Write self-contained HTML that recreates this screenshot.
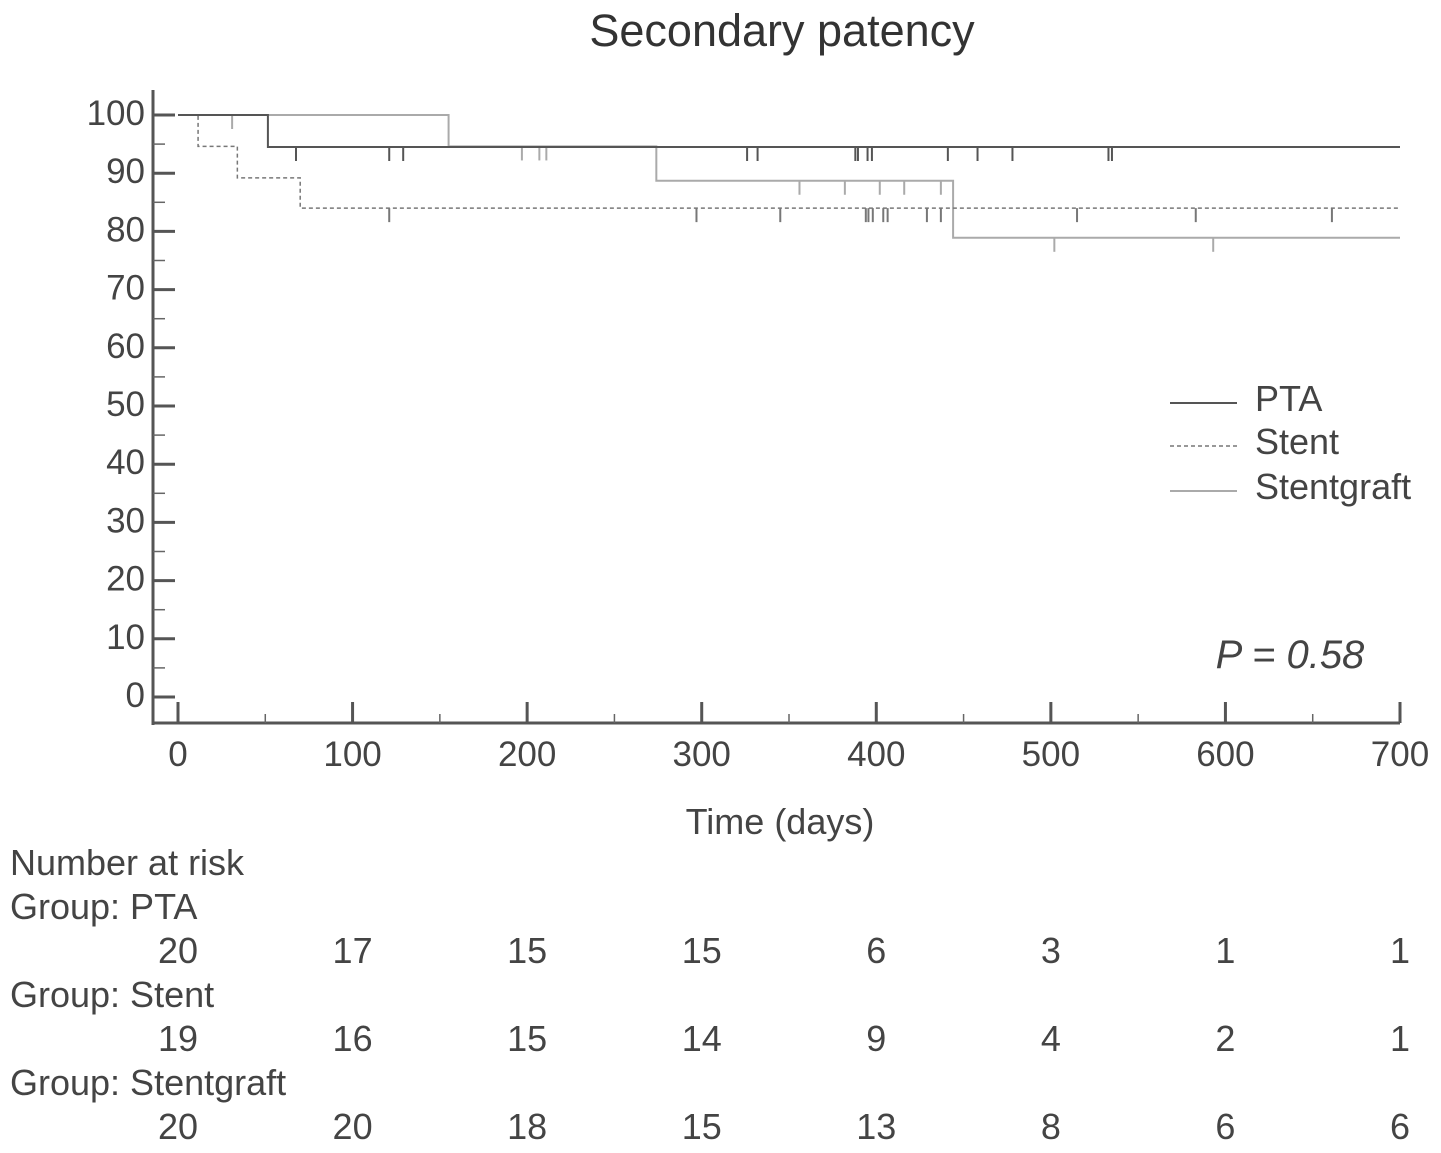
<!DOCTYPE html>
<html><head><meta charset="utf-8">
<style>
html,body{margin:0;padding:0;background:#fff;}
svg{display:block;font-family:"Liberation Sans",Arial,sans-serif;}
</style></head>
<body>
<svg id="chart" width="1441" height="1153" viewBox="0 0 1441 1153" xmlns="http://www.w3.org/2000/svg">
<text x="782" y="46" font-size="45" fill="#333" text-anchor="middle">Secondary patency</text>
<g id="axes"></g>
<g id="curves"></g>
<g id="legend">
  <line x1="1170" y1="403" x2="1237" y2="403" stroke="#555" stroke-width="2"/>
  <text x="1255" y="411" font-size="36" fill="#444">PTA</text>
  <line x1="1170" y1="446" x2="1237" y2="446" stroke="#777" stroke-width="1.5" stroke-dasharray="4,3"/>
  <text x="1255" y="454" font-size="36" fill="#444">Stent</text>
  <line x1="1170" y1="491" x2="1237" y2="491" stroke="#aaa" stroke-width="2"/>
  <text x="1255" y="499" font-size="36" fill="#444">Stentgraft</text>
</g>
<text x="1290" y="668" font-size="40" font-style="italic" fill="#444" text-anchor="middle">P = 0.58</text>
<text x="780" y="834" font-size="36" fill="#444" text-anchor="middle">Time (days)</text>
<g id="risk"></g>
</svg>
<script>
const xTicks=[0,100,200,300,400,500,600,700];
const yTicks=[0,10,20,30,40,50,60,70,80,90,100];
// step curves: [day, survival%]
const ptaSteps=[[0,100],[51.5,94.5],[700,94.5]];
const stentSteps=[[0,100],[11.5,94.6],[34,89.2],[70,84.0],[700,84.0]];
const graftSteps=[[0,100],[155,94.6],[274,88.7],[444,78.9],[700,78.9]];
const ptaCensor=[67.6,121,129,326,332,388,389.5,395,397.5,441,458,478,533,535];
const stentCensor=[121,297,345,394,395.5,398,404,406.5,429,437,515,583,661];
const graftCensor=[31,197,207,211,356,382,402,416,437,502,593];
const riskGroups=["PTA","Stent","Stentgraft"];
const riskPTA=[20,17,15,15,6,3,1,1];
const riskStent=[19,16,15,14,9,4,2,1];
const riskGraft=[20,20,18,15,13,8,6,6];

const NS="http://www.w3.org/2000/svg";
const X=d=>178+d*(1222/700);
const Y=v=>697-v*5.82;
function mk(parent,tag,attrs){const e=document.createElementNS(NS,tag);for(const k in attrs)e.setAttribute(k,attrs[k]);parent.appendChild(e);return e;}
const axes=document.getElementById('axes');
let a=mk(axes,'line',{x1:153,y1:90,x2:153,y2:725,stroke:'#555','stroke-width':3});


a=mk(axes,'line',{x1:152,y1:723,x2:1400,y2:723,stroke:'#555','stroke-width':3});


yTicks.forEach(v=>{
  const t=mk(axes,'line',{x1:153,y1:Y(v),x2:175,y2:Y(v),stroke:'#555','stroke-width':3});
  
  
  if(v<100){const m=mk(axes,'line',{x1:153,y1:Y(v+5),x2:165,y2:Y(v+5),stroke:'#666','stroke-width':1.5});
  
  }
  const l=mk(axes,'text',{x:145,y:Y(v)+10,'font-size':35,fill:'#444','text-anchor':'end'});
  l.textContent=v;
  
  
});
xTicks.forEach((d,i)=>{
  const t=mk(axes,'line',{x1:X(d),y1:702,x2:X(d),y2:723,stroke:'#555','stroke-width':3});
  
  
  if(i<xTicks.length-1){const m=mk(axes,'line',{x1:X(d+50),y1:714,x2:X(d+50),y2:723,stroke:'#666','stroke-width':1.5});
  
  }
  const l=mk(axes,'text',{x:X(d),y:766,'font-size':35,fill:'#444','text-anchor':'middle'});
  l.textContent=d;
  
  
});
const curves=document.getElementById('curves');
function stepPath(steps){let p='M'+X(steps[0][0])+','+Y(steps[0][1]);for(let i=1;i<steps.length;i++){p+=' H'+X(steps[i][0])+' V'+Y(steps[i][1]);}return p;}
function levelAt(steps,d){let v=steps[0][1];for(const s of steps){if(s[0]<=d)v=s[1];}return v;}
function series(steps,cens,style,name){
  const p=mk(curves,'path',Object.assign({d:stepPath(steps),fill:'none'},style));
  
  
  cens.forEach(d=>{const y=Y(levelAt(steps,d));
    const c=mk(curves,'line',{x1:X(d),y1:y,x2:X(d),y2:y+14,stroke:style.stroke,'stroke-width':2});
    
    });
}
series(graftSteps,graftCensor,{stroke:'#aaa','stroke-width':2},'stentgraft');
series(stentSteps,stentCensor,{stroke:'#777','stroke-width':1.5,'stroke-dasharray':'4,3'},'stent');
series(ptaSteps,ptaCensor,{stroke:'#555','stroke-width':2},'pta');
const risk=document.getElementById('risk');
function txt(x,y,s,anchor,name){const t=mk(risk,'text',{x:x,y:y,'font-size':36,fill:'#444','text-anchor':anchor});t.textContent=s;
  
  }
txt(10,875,'Number at risk','start','risk-table-title');
[riskPTA,riskStent,riskGraft].forEach((arr,g)=>{
  const y0=919+g*88;
  txt(10,y0,'Group: '+riskGroups[g],'start','risk-group-label');
  arr.forEach((n,i)=>txt(X(xTicks[i]),y0+44,n,'middle','risk-count'));
});
</script>
</body></html>
